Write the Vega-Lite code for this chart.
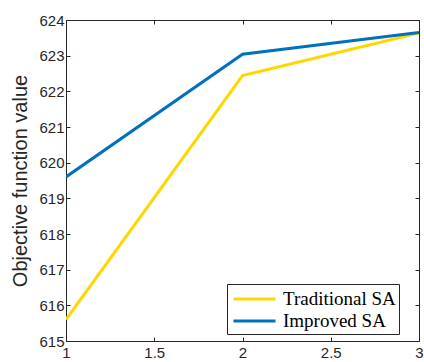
{
  "$schema": "https://vega.github.io/schema/vega-lite/v6.json",
  "width": 353,
  "height": 321,
  "autosize": "none",
  "padding": {"left": 66, "top": 20, "right": 5, "bottom": 21},
  "background": "white",
  "config": {
    "view": {"stroke": "#262626", "strokeWidth": 1},
    "axis": {"grid": false, "domain": false, "tickColor": "#262626", "labelColor": "#262626", "labelFont": "Liberation Sans", "labelFontSize": 15, "tickSize": -4, "titleFont": "Liberation Sans", "titleColor": "#262626"}
  },
  "data": {"values": [
    {"x": 1, "y": 615.6, "s": "Traditional SA"},
    {"x": 2, "y": 622.44, "s": "Traditional SA"},
    {"x": 3, "y": 623.64, "s": "Traditional SA"},
    {"x": 1, "y": 619.6, "s": "Improved SA"},
    {"x": 2, "y": 623.04, "s": "Improved SA"},
    {"x": 3, "y": 623.65, "s": "Improved SA"}
  ]},
  "layer": [
    {
      "mark": {"type": "line", "strokeWidth": 3, "clip": true},
      "encoding": {
        "x": {"field": "x", "type": "quantitative", "scale": {"domain": [1, 3], "nice": false}, "axis": {"values": [1, 1.5, 2, 2.5, 3], "format": "~g", "title": null, "labelPadding": 8, "labelFlush": false, "labelBaseline": "top"}},
        "y": {"field": "y", "type": "quantitative", "scale": {"domain": [615, 624], "nice": false, "zero": false}, "axis": {"values": [615, 616, 617, 618, 619, 620, 621, 622, 623, 624], "format": "d", "title": "Objective function value", "titleFontSize": 20, "titleFontWeight": "normal", "titlePadding": 8, "labelPadding": 6}},
        "color": {"field": "s", "type": "nominal", "sort": ["Traditional SA", "Improved SA"],
          "scale": {"domain": ["Traditional SA", "Improved SA"], "range": ["#FFD700", "#0072BD"]},
          "legend": {"title": null, "orient": "none", "legendX": 161, "legendY": 264, "symbolType": "M-1,0H3", "symbolSize": 441, "symbolStrokeWidth": 3, "labelFont": "Liberation Serif", "labelFontSize": 19, "labelColor": "#000000", "strokeColor": "#262626", "fillColor": "white", "padding": 3, "rowPadding": 0, "labelOffset": 27, "symbolOffset": 2}}
      }
    },
    {
      "mark": {"type": "rule", "opacity": 0},
      "encoding": {
        "x": {"datum": 1, "type": "quantitative", "axis": {"orient": "top", "values": [1, 1.5, 2, 2.5, 3], "labels": false, "title": null}},
        "y": {"datum": 615, "type": "quantitative", "axis": {"orient": "right", "values": [615, 616, 617, 618, 619, 620, 621, 622, 623, 624], "labels": false, "title": null}}
      }
    }
  ],
  "resolve": {"axis": {"x": "independent", "y": "independent"}}
}
